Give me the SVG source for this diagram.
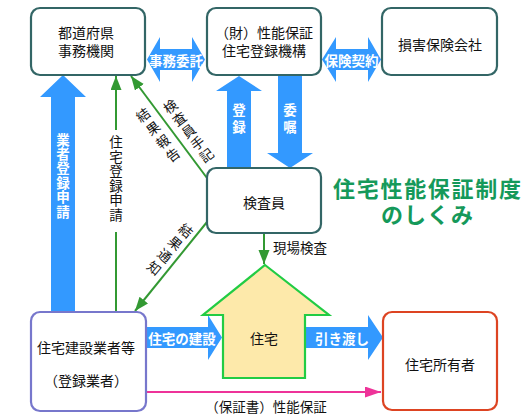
<svg xmlns="http://www.w3.org/2000/svg" width="528" height="420" viewBox="0 0 528 420">
<defs>
<style>
text{font-family:"Noto Sans CJK JP","Noto Sans",sans-serif;dominant-baseline:central;text-anchor:middle;}
.v{writing-mode:vertical-rl;text-orientation:upright;}
.box{fill:#fff;stroke:#336666;stroke-width:2.2;}
.t{font-size:14px;fill:#111;}
.s{font-size:13.5px;fill:#111;}
.w{font-size:13.5px;fill:#fff;font-weight:bold;}
.blue{fill:#3399ff;}
.g{stroke:#339933;stroke-width:2;fill:none;}
.title{font-size:22px;font-weight:bold;fill:#15995a;}
</style>
<marker id="ga" markerUnits="userSpaceOnUse" markerWidth="16" markerHeight="12" refX="14" refY="5.5" orient="auto">
<path d="M0,0 L14,5.5 L0,11 Z" fill="#339933"/>
</marker>
<marker id="pa" markerUnits="userSpaceOnUse" markerWidth="18" markerHeight="12" refX="16" refY="5.5" orient="auto">
<path d="M0,0 L16,5.5 L0,11 Z" fill="#ee3399"/>
</marker>
</defs>
<rect width="528" height="420" fill="#fff"/>

<g id="connectors">
<polygon class="blue" points="147,59.5 160,37 160,49 192,49 192,37 205,59.5 192,82 192,70 160,70 160,82"/>
<text class="w" x="176" y="60">事務委託</text>
<polygon class="blue" points="322,59.5 336,37 336,49 368,49 368,37 381,59.5 368,82 368,70 336,70 336,82"/>
<text class="w" x="351.5" y="60">保険契約</text>
<polygon class="blue" points="63,75 86,97 75,97 75,312 51,312 51,97 40,97"/>
<text class="w v" x="63" y="176" letter-spacing="0.9">業者登録申請</text>
<polygon class="blue" points="239,76 262,91 251,91 251,168 227,168 227,91 216,91"/>
<text class="w v" x="239" y="120" letter-spacing="3.5">登録</text>
<polygon class="blue" points="278,75 302,75 302,153 313,153 290,168 267,153 278,153"/>
<text class="w v" x="290" y="120" letter-spacing="3.5">委嘱</text>
<polygon class="blue" points="146,327 208,327 208,315 222,337.5 208,360 208,348 146,348"/>
<text class="w" x="182" y="338">住宅の建設</text>
<polygon class="blue" points="305,327 368,327 368,315 383,337.5 368,360 368,348 305,348"/>
<text class="w" x="342" y="338">引き渡し</text>

<line class="g" x1="116" y1="130" x2="116" y2="76" marker-end="url(#ga)"/>
<line class="g" x1="116" y1="312" x2="116" y2="232"/>
<text class="s v" x="116" y="179" letter-spacing="1.1">住宅登録申請</text>
<line class="g" x1="207" y1="178" x2="131" y2="76" marker-end="url(#ga)"/>
<g transform="translate(158,135) rotate(-36.7)">
<text class="s v" x="0" y="1.5" letter-spacing="3">結果報告</text>
</g>
<g transform="translate(188.5,131) rotate(-36.7)">
<text class="s v" x="0" y="0.8" letter-spacing="1.65">検査員手記</text>
</g>
<line class="g" x1="207" y1="222" x2="135" y2="311" marker-end="url(#ga)"/>
<g transform="translate(170,249.5) rotate(40)">
<text class="s v" x="0" y="1.4" letter-spacing="2.8">結果通知</text>
</g>
<line class="g" x1="264" y1="233" x2="264" y2="264" marker-end="url(#ga)"/>
<text class="s" x="273" y="247" style="text-anchor:start">現場検査</text>
<line x1="146" y1="392" x2="381" y2="392" stroke="#ee3399" stroke-width="2" marker-end="url(#pa)"/>
<text class="s" x="266" y="406">（保証書）性能保証</text>
</g>

<g id="node-todofuken">
<rect class="box" x="31" y="8" width="114" height="67" rx="9"/>
<text class="t"><tspan x="86" y="32">都道府県</tspan><tspan x="86" y="50">事務機関</tspan></text>
</g>
<g id="node-kikou">
<rect class="box" x="207" y="8" width="114" height="67" rx="9"/>
<text class="t"><tspan x="264" y="32">（財）性能保証</tspan><tspan x="264" y="50">住宅登録機構</tspan></text>
</g>
<g id="node-songai">
<rect class="box" x="382" y="8" width="115" height="67" rx="9"/>
<text class="t" x="440" y="44">損害保険会社</text>
</g>
<g id="node-kensain">
<rect class="box" x="207" y="168" width="114" height="65" rx="9"/>
<text class="t" x="264" y="202">検査員</text>
</g>
<g id="node-gyousha">
<rect x="31" y="312" width="115" height="99" rx="9" fill="#fff" stroke="#7777cc" stroke-width="2.2"/>
<text class="t" x="86" y="347">住宅建設業者等</text>
<text class="t" x="86" y="380">（登録業者）</text>
</g>
<g id="node-jutaku">
<polygon points="265,265 329,315 305,315 305,378 223,378 223,315 203,315" fill="#fde9aa" stroke="#22cc44" stroke-width="2.2"/>
<text class="t" x="264" y="338">住宅</text>
</g>
<g id="node-shoyusha">
<rect x="383" y="312" width="114" height="98" rx="9" fill="#fff" stroke="#dd4422" stroke-width="2.2"/>
<text class="t" x="440" y="364">住宅所有者</text>
</g>
<g id="title">
<text class="title"><tspan x="427" y="187" textLength="188" lengthAdjust="spacing">住宅性能保証制度</tspan><tspan x="427" y="213" textLength="92" lengthAdjust="spacing">のしくみ</tspan></text>
</g>
</svg>
